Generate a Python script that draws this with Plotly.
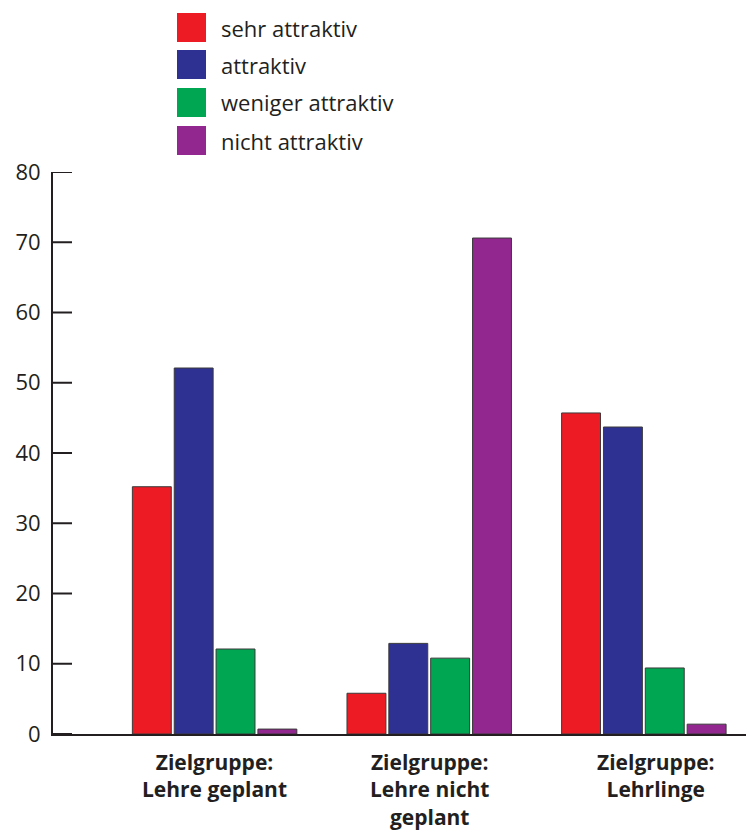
import plotly.graph_objects as go

categories = ["Zielgruppe:<br>Lehre geplant", "Zielgruppe:<br>Lehre nicht<br>geplant", "Zielgruppe:<br>Lehrlinge"]
series_names = ["sehr attraktiv", "attraktiv", "weniger attraktiv", "nicht attraktiv"]
sehr_attraktiv = [35.2, 5.8, 45.7]
attraktiv = [52.1, 12.9, 43.7]
weniger_attraktiv = [12.1, 10.8, 9.4]
nicht_attraktiv = [0.7, 70.6, 1.4]
colors = ["#ED1C24", "#2E3192", "#00A651", "#92278F"]
y_ticks = [0, 10, 20, 30, 40, 50, 60, 70, 80]

W, H = 746, 831
L, R, T, B = 53, 0, 172, 97
pw, ph = W - L - R, H - T - B
label_xshift = [0, 0, 12]

def px_x(x):
    return (x - L) / pw

def px_y(y):
    return (H - B - y) / ph

fig = go.Figure()
for name, vals, col in zip(series_names, [sehr_attraktiv, attraktiv, weniger_attraktiv, nicht_attraktiv], colors):
    fig.add_trace(go.Bar(x=categories, y=vals, name=name, marker=dict(color=col, line=dict(color="#3a3a3a", width=1)), showlegend=False))

font_fam = "Open Sans, Liberation Sans, Arial, sans-serif"
ink = "#231F20"
shapes = []
annotations = []
tops = [13, 50, 88, 126]
for i, (name, col) in enumerate(zip(series_names, colors)):
    t = tops[i]
    shapes.append(dict(type="rect", xref="paper", yref="paper",
                       x0=px_x(177), x1=px_x(206), y0=px_y(t + 29), y1=px_y(t),
                       fillcolor=col, line=dict(width=0)))
    annotations.append(dict(xref="paper", yref="paper", x=px_x(219), y=px_y(t + 14.5),
                            text=name, showarrow=False, xanchor="left", yanchor="middle",
                            font=dict(family=font_fam, size=22, color=ink)))

# inward tick marks on the y axis, at the tick values
for v in y_ticks:
    shapes.append(dict(type="line", xref="paper", yref="y", x0=0, x1=px_x(72), y0=v, y1=v,
                       line=dict(color=ink, width=2)))

# category labels
for c, dx in zip(categories, label_xshift):
    annotations.append(dict(xref="x", yref="y", x=c, y=0, yanchor="top", xanchor="center",
                            yshift=-12, xshift=dx, text="<b>" + c + "</b>", showarrow=False,
                            align="center", font=dict(family=font_fam, size=21, color=ink)))

fig.update_layout(
    template="none",
    width=W, height=H,
    margin=dict(l=L, r=R, t=T, b=B, pad=0, autoexpand=False),
    paper_bgcolor="white", plot_bgcolor="white",
    barmode="group", bargap=0.22, bargroupgap=0.07,
    font=dict(family=font_fam, size=22, color=ink),
    shapes=shapes, annotations=annotations,
    xaxis=dict(type="category", range=[-0.753, 2.476], showline=True, linecolor=ink, linewidth=2,
               ticks="", showgrid=False, zeroline=False, automargin=False,
               showticklabels=False),
    yaxis=dict(range=[0, 80], tickmode="array", tickvals=y_ticks, showline=True, linecolor=ink, linewidth=2,
               ticks="outside", ticklen=0, showgrid=False, zeroline=False,
               automargin=False, ticklabelstandoff=6,
               tickfont=dict(family=font_fam, size=22, color=ink)),
)

fig.write_html("out.html", config={"displayModeBar": False}, post_script="document.body.style.margin='0px';")
